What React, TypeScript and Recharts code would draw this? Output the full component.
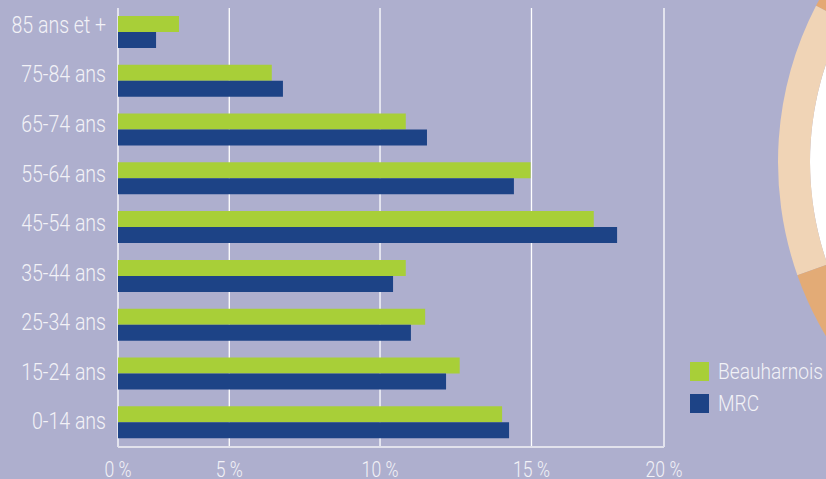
import React from "react";
import { BarChart, Bar, XAxis, YAxis, CartesianGrid, Legend, PieChart, Pie, Cell } from "recharts";

// ---- data ----
const ageGroups = ["85 ans et +", "75-84 ans", "65-74 ans", "55-64 ans", "45-54 ans", "35-44 ans", "25-34 ans", "15-24 ans", "0-14 ans"];
const beauharnois = [2.74, 6.41, 10.85, 14.97, 17.35, 10.85, 11.49, 12.63, 14.03];
const mrc = [1.71, 6.78, 11.55, 14.42, 18.23, 10.43, 11.02, 12.18, 14.26];
const xTicks = [0, 5, 10, 15, 20];
const seriesNames = ["Beauharnois", "MRC"];

// cut-off ring from a neighbouring chart (decorative)
const ringShares = [17.4, 13.0, 19.6, 50.0];
const ringColors = ["#E4A873", "#F0D4B6", "#E3AB76", "#EBCBA9"];

const rows = ageGroups.map((age, i) => ({ age, beauharnois: beauharnois[i], mrc: mrc[i] }));
const ringData = ringShares.map((v, i) => ({ name: `s${i}`, v }));
const centerData = [{ name: "c", v: 1 }];

const FONT = "Roboto, 'DejaVu Sans Condensed', sans-serif";
const TEXT = "#F2F2F7";
const BG = "#AEAFCE";

// The reference's axis is drawn with uneven spacing between its ticks;
// a piecewise-linear scale reproduces it.
const anchorFractions = [0, 0.2038, 0.4799, 0.7573, 1];
function piecewiseScale(stops: number[], fracs: number[]): any {
  let dom: number[] = [stops[0], stops[stops.length - 1]];
  let rng: number[] = [0, 1];
  const toFrac = (v: number) => {
    const n = stops.length;
    let i = 0;
    while (i < n - 2 && v > stops[i + 1]) i++;
    const t = (v - stops[i]) / (stops[i + 1] - stops[i]);
    return fracs[i] + t * (fracs[i + 1] - fracs[i]);
  };
  const fromFrac = (f: number) => {
    const n = fracs.length;
    let i = 0;
    while (i < n - 2 && f > fracs[i + 1]) i++;
    const t = (f - fracs[i]) / (fracs[i + 1] - fracs[i]);
    return stops[i] + t * (stops[i + 1] - stops[i]);
  };
  const scale: any = (v: any) => {
    const num = Number(v);
    if (v == null || !Number.isFinite(num)) return undefined;
    return rng[0] + toFrac(num) * (rng[1] - rng[0]);
  };
  scale.domain = function (d?: any) {
    if (arguments.length === 0) return dom.slice();
    dom = Array.from(d).map(Number);
    return scale;
  };
  scale.range = function (r?: any) {
    if (arguments.length === 0) return rng.slice();
    rng = Array.from(r).map(Number);
    return scale;
  };
  scale.rangeRound = scale.range;
  scale.invert = (px: number) => fromFrac((px - rng[0]) / (rng[1] - rng[0]));
  scale.copy = () => piecewiseScale(stops, fracs).domain(dom).range(rng);
  scale.ticks = () => stops.slice();
  scale.tickFormat = () => (v: any) => String(v);
  scale.nice = () => scale;
  scale.clamp = function () { return arguments.length ? scale : false; };
  scale.unknown = function () { return arguments.length ? scale : undefined; };
  return scale;
}
const xScale = piecewiseScale(xTicks, anchorFractions);

// condensed-looking text (the reference uses a narrow typeface)
const CondensedTick = (props: any) => {
  const { x, y, payload, anchor, size, squeeze, shiftY, format } = props;
  const label = format ? format(payload.value) : payload.value;
  return (
    <g transform={`translate(${x},${y}) scale(${squeeze},1)`}>
      <text x={0} y={0} dy={shiftY} textAnchor={anchor} fill={TEXT} fontSize={size}
        fontFamily={FONT} fontWeight={300}>{label}</text>
    </g>
  );
};

const renderLegend = (props: any) => (
  <div style={{ fontFamily: FONT, fontSize: 22, fontWeight: 300, color: TEXT, whiteSpace: "nowrap" }}>
    {(props.payload || []).map((e: any) => (
      <div key={e.value} style={{ display: "flex", alignItems: "center", height: 32 }}>
        <span style={{ display: "inline-block", width: 19, height: 19, background: e.color, marginRight: 9, flex: "none" }} />
        <span style={{ display: "inline-block", transform: "scaleX(0.87)", transformOrigin: "left center" }}>{e.value}</span>
      </div>
    ))}
  </div>
);

export default function App() {
  return (
    <div style={{ position: "absolute", left: 0, top: 0, width: 826, height: 479, background: BG, overflow: "hidden" }}>
      <div style={{ position: "absolute", left: 0, top: 0 }}>
        <PieChart width={826} height={479} margin={{ top: 0, right: 0, bottom: 0, left: 0 }}>
          <Pie data={centerData} dataKey="v" cx={1118} cy={162} innerRadius={0} outerRadius={308}
            stroke="none" fill="#FFFFFF" isAnimationActive={false} />
          <Pie data={ringData} dataKey="v" cx={1118} cy={162} innerRadius={308} outerRadius={340}
            startAngle={90} endAngle={450} stroke="none" isAnimationActive={false}>
            {ringData.map((d, i) => <Cell key={d.name} fill={ringColors[i]} />)}
          </Pie>
        </PieChart>
      </div>
      <div style={{ position: "absolute", left: 0, top: 0 }}>
        <BarChart width={826} height={479} data={rows} layout="vertical"
          margin={{ top: 8, right: 162, bottom: 0, left: 0 }} barGap={0} barSize={16}>
          <CartesianGrid horizontal={false} vertical={true} stroke="#FFFFFF" strokeWidth={1.3} />
          <XAxis type="number" scale={xScale} domain={[0, 20]} ticks={xTicks} interval={0}
            height={32} tickSize={0} tickMargin={14}
            axisLine={{ stroke: "#E2E2EC", strokeWidth: 2 }} tickLine={false}
            tick={<CondensedTick anchor="middle" size={22} squeeze={0.8} shiftY="0.71em"
              format={(v: number) => `${v} %`} />} />
          <YAxis type="category" dataKey="age" width={118} interval={0} tickSize={0} tickMargin={12}
            axisLine={false} tickLine={false} padding={{ top: -8, bottom: 1 }}
            tick={<CondensedTick anchor="end" size={23} squeeze={0.85} shiftY="0.355em" />} />
          <YAxis yAxisId="bars" type="category" dataKey="age" hide />
          <Legend layout="vertical" align="center" verticalAlign="middle" content={renderLegend}
            wrapperStyle={{ position: "absolute", left: 690, top: 355, width: 200, height: 64 }} />
          <Bar yAxisId="bars" dataKey="beauharnois" name={seriesNames[0]} fill="#A8CF38" isAnimationActive={false} />
          <Bar yAxisId="bars" dataKey="mrc" name={seriesNames[1]} fill="#1D4386" isAnimationActive={false} />
        </BarChart>
      </div>
    </div>
  );
}
